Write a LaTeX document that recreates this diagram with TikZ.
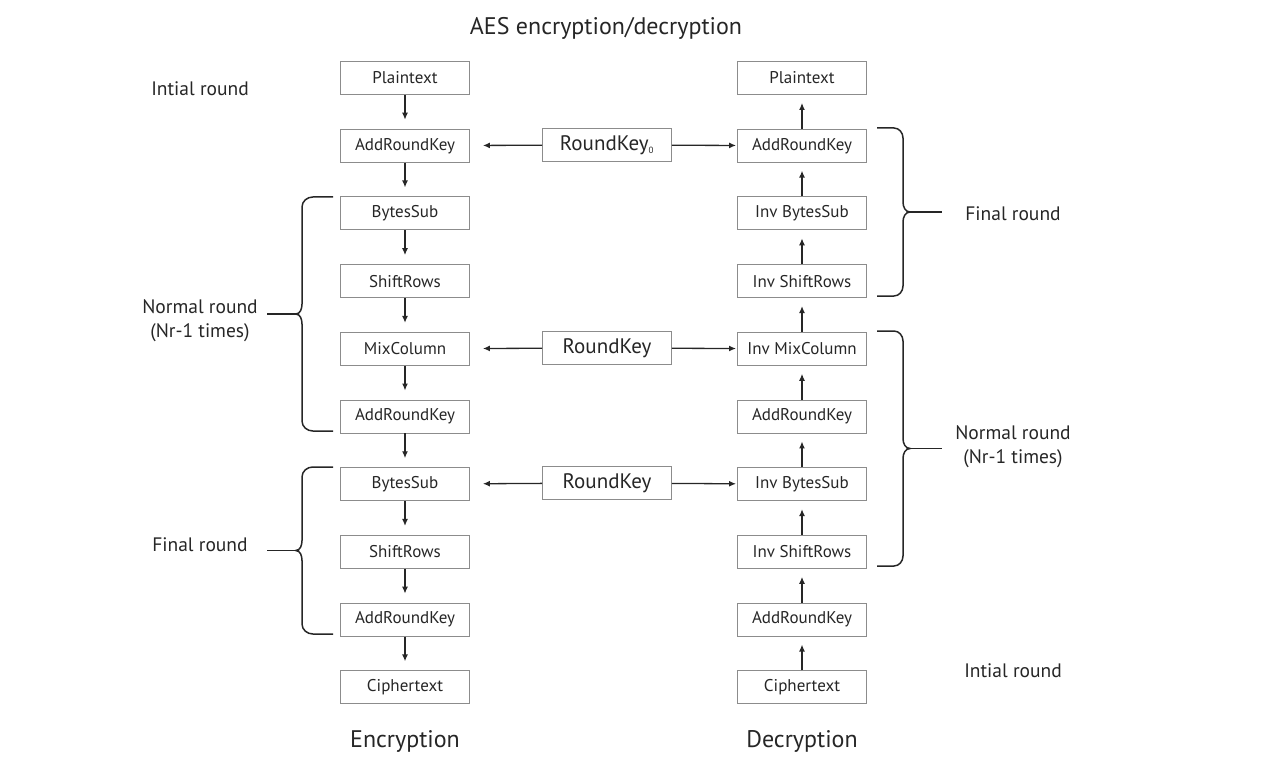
\documentclass[tikz,border=0pt]{standalone}
\usepackage{fontspec}
\setmainfont{PT Sans}
\usetikzlibrary{arrows.meta, positioning, calc}

\begin{document}
\begin{tikzpicture}[x=1pt, y=-1pt,
    blk/.style={draw=black!45, line width=0.9pt, minimum width=129pt, minimum height=33pt, inner sep=0pt, text=black!85, font=\fontsize{17}{19}\selectfont},
    keyblk/.style={blk, font=\fontsize{21}{23}\selectfont},
    lbl/.style={align=center, text=black!85, font=\fontsize{19.5}{24}\selectfont},
    hdr/.style={text=black!85, font=\fontsize{24}{27}\selectfont},
    arr/.style={-{Latex[length=7pt, width=6pt]}, line width=1.3pt, black!85},
    brc/.style={line width=1.5pt, black!85}]
    \useasboundingbox (0,0) rectangle (1280,762);
    % columns
    \foreach \t [count=\i] in {Plaintext, AddRoundKey, BytesSub, ShiftRows, MixColumn, AddRoundKey, BytesSub, ShiftRows, AddRoundKey, Ciphertext} {
        \node[blk] (e\i) at (405, {78+67.7*(\i-1)}) {\t};
    }
    \foreach \t [count=\i] in {Plaintext, AddRoundKey, Inv BytesSub, Inv ShiftRows, Inv MixColumn, AddRoundKey, Inv BytesSub, Inv ShiftRows, AddRoundKey, Ciphertext} {
        \node[blk] (d\i) at (802, {78+67.7*(\i-1)}) {\t};
    }
    \foreach \i [evaluate=\i as \j using int(\i+1)] in {1,...,9} {
        \draw[arr, shorten >=9pt] (e\i) -- (e\j);
        \draw[arr, shorten >=8pt] (d\j) -- (d\i);
    }
    % round keys
    \node[keyblk] (k0) at (607, 145) {RoundKey\textsubscript{\fontsize{9}{9}\selectfont 0}};
    \node[keyblk] (k1) at (607, 348) {RoundKey};
    \node[keyblk] (k2) at (607, 483) {RoundKey};
    \foreach \k/\r in {k0/2, k1/5, k2/7} {
        \draw[arr, shorten >=13pt] (\k) -- (e\r);
        \draw[arr, shorten >=1pt] (\k) -- (d\r);
    }
    % braces
    \foreach \xe/\xv/\xt/\ya/\yb/\a in {333/302/267/197/431/0, 333/302/267/467/634/0, 877/903/942/128/296/180, 877/903/942/331/566/180} {
        \pgfmathsetmacro{\xc}{\xv+(\xe-\xv)*0.35}
        \pgfmathsetmacro{\xp}{\xv+(\xt-\xv)*0.18}
        \pgfmathsetmacro{\ym}{(\ya+\yb)/2}
        \coordinate (tip) at (\xp, \ym);
        \draw[brc] (\xe,\ya) -- (\xc,\ya) to[out=180-\a, in=90] ++(\xv-\xc,10)
            -- (\xv,\ym-10) to[out=-90, in=\a] (tip) to[out=\a, in=90] (\xv,\ym+10)
            -- (\xv,\yb-10) to[out=-90, in=180-\a] (\xc,\yb) -- (\xe,\yb);
        \draw[brc] (tip) -- (\xt, \ym);
    }
    % labels
    \node[hdr] (title) at (606, 28) {AES encryption/decryption};
    \node[hdr] (enc) at (405, 741) {Encryption};
    \node[hdr] (dec) at (802, 741) {Decryption};
    \node[lbl] (li) at (200, 89) {Intial round};
    \node[lbl] (ln) at (200, 321) {Normal round\\(Nr-1 times)};
    \node[lbl] (lf) at (200, 545) {Final round};
    \node[lbl] (rf) at (1013, 214) {Final round};
    \node[lbl] (rn) at (1013, 447) {Normal round\\(Nr-1 times)};
    \node[lbl] (ri) at (1013, 671) {Intial round};
\end{tikzpicture}
\end{document}
